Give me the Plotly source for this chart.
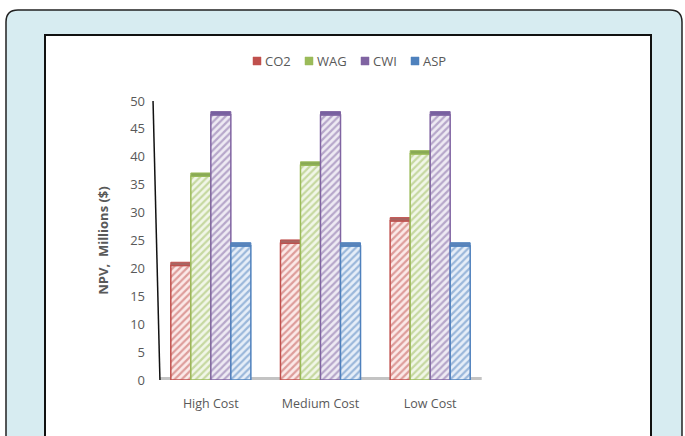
import plotly.graph_objects as go

categories = ["High Cost", "Medium Cost", "Low Cost"]
series_names = ["CO2", "WAG", "CWI", "ASP"]
co2 = [20.5, 24.5, 28.5]
wag = [36.5, 38.5, 40.5]
cwi = [47.5, 47.5, 47.5]
asp = [24.0, 24.0, 24.0]
y_ticks = [0, 5, 10, 15, 20, 25, 30, 35, 40, 45, 50]

values = [co2, wag, cwi, asp]
line_colors = ["#c0504d", "#9bbb59", "#8064a2", "#4f81bd"]
fill_colors = ["#fbe9e8", "#f1f6e8", "#eeeaf3", "#e6eef8"]
cap_colors = ["#a86562", "#88a955", "#7760a0", "#5a84ba"]

W, H = 685, 436
l, r, t, b = 156, 200, 101, 56
pw, ph = W - l - r, H - t - b


def px_x(v):
    return (v - l) / pw


def px_y(v):
    return (H - b - v) / ph


fig = go.Figure()

for name, vals, lc, fc, cc in zip(series_names, values, line_colors, fill_colors, cap_colors):
    fig.add_trace(go.Bar(
        x=categories, y=vals, name=name, offsetgroup=name,
        marker=dict(color=fc, line=dict(color=lc, width=1.5),
                    pattern=dict(shape="/", fgcolor=lc, bgcolor=fc, size=5, solidity=0.45)),
        showlegend=False,
    ))
    # darker top face giving the column a slight 3-D look
    fig.add_trace(go.Bar(
        x=categories, y=[0.6] * len(vals), base=vals, offsetgroup=name,
        marker=dict(color=cc, line=dict(color=lc, width=1)),
        showlegend=False, hoverinfo="skip",
    ))

shapes = []
annotations = []

# outer rounded panel
pts = [(6, H + 5), (6, 22), (6, 10), (18, 10), (670, 10), (682, 10), (682, 22), (682, H + 5)]
P = [(px_x(x), px_y(y)) for x, y in pts]
path = ("M {0[0]:.5f} {0[1]:.5f} L {1[0]:.5f} {1[1]:.5f} Q {2[0]:.5f} {2[1]:.5f} {3[0]:.5f} {3[1]:.5f} "
        "L {4[0]:.5f} {4[1]:.5f} Q {5[0]:.5f} {5[1]:.5f} {6[0]:.5f} {6[1]:.5f} L {7[0]:.5f} {7[1]:.5f} Z").format(*P)
shapes.append(dict(type="path", xref="paper", yref="paper", layer="below", path=path,
                   fillcolor="#d7ecf1", line=dict(color="#222222", width=1.5)))
# inner white chart area
shapes.append(dict(type="rect", xref="paper", yref="paper", layer="below",
                   x0=px_x(45), x1=px_x(651), y0=px_y(35), y1=px_y(H + 5),
                   fillcolor="white", line=dict(color="#111111", width=2)))
# floor under the columns
shapes.append(dict(type="rect", xref="x domain", yref="y", layer="below",
                   x0=0.012, x1=0.99, y0=-0.2, y1=0.55,
                   fillcolor="#c3c3c3", line=dict(width=0)))
# slanted value axis line
shapes.append(dict(type="line", xref="x domain", yref="y",
                   x0=-0.009, y0=50, x1=0.012, y1=0,
                   line=dict(color="#111111", width=1.5)))

# compact legend row: small square swatch + label
legend_x = [253, 305, 361, 411]
for name, lc, x0 in zip(series_names, line_colors, legend_x):
    shapes.append(dict(type="rect", xref="paper", yref="paper",
                       x0=px_x(x0), x1=px_x(x0 + 8), y0=px_y(57), y1=px_y(65),
                       fillcolor=lc, line=dict(color=lc, width=0.5)))
    annotations.append(dict(xref="paper", yref="paper", x=px_x(x0 + 10), y=px_y(61),
                            text=name, showarrow=False, xanchor="left", yanchor="middle",
                            font=dict(size=13, color="#595959")))

fig.update_layout(
    width=W, height=H,
    margin=dict(l=l, r=r, t=t, b=b),
    paper_bgcolor="white", plot_bgcolor="rgba(0,0,0,0)",
    barmode="group", bargap=0.27, bargroupgap=0,
    font=dict(family="Open Sans, Liberation Sans, sans-serif", color="#595959", size=12),
    shapes=shapes, annotations=annotations,
    showlegend=False,
    xaxis=dict(showline=False, showgrid=False, ticks="", tickfont=dict(size=12.5, color="#595959"),
               ticklabelstandoff=14),
    yaxis=dict(range=[0, 50], tickvals=y_ticks, showgrid=False, zeroline=False, showline=False,
               ticks="", tickfont=dict(size=13, color="#595959"), ticklabelstandoff=10,
               title=dict(text="<b>NPV,  Millions ($)</b>", font=dict(size=13, color="#595959"),
                          standoff=18)),
)

fig.write_html("out.html")
